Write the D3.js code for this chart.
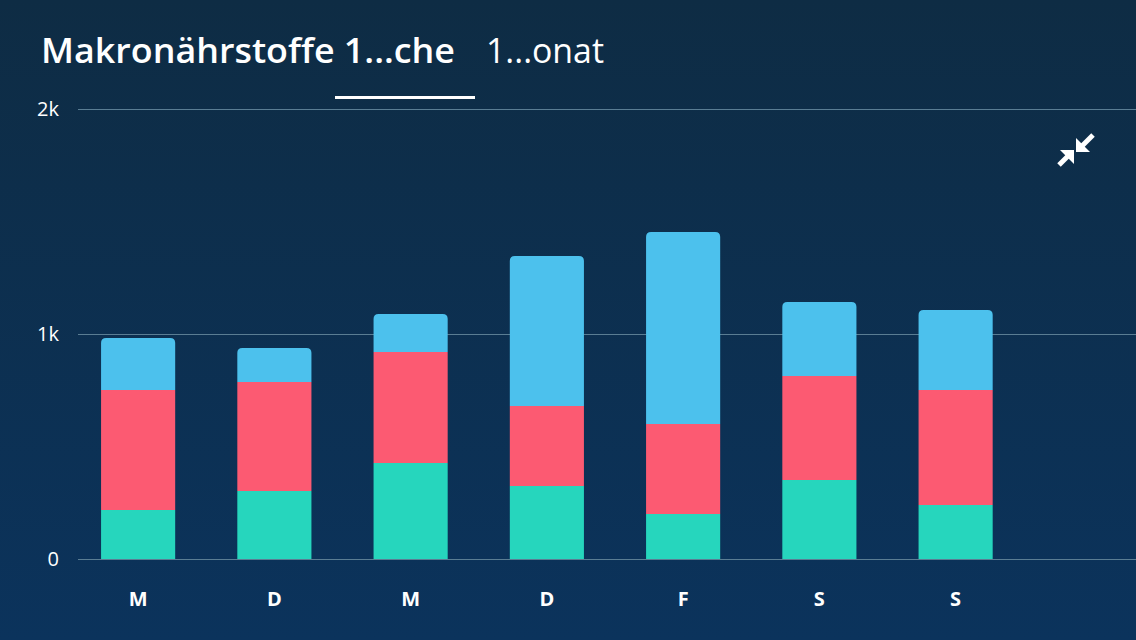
<!DOCTYPE html>
<html><head><meta charset="utf-8">
<script src="https://cdn.jsdelivr.net/npm/d3@7"></script>
<style>html,body{margin:0;padding:0;background:#0d2f4d;}svg{display:block;}</style>
</head><body>
<svg id="c" width="1136" height="640"></svg>
<script>
const days = ["M","D","M","D","F","S","S",""];
const protein = [218, 302, 427, 324, 200, 351, 240];
const fat = [533, 485, 493, 356, 400, 462, 511];
const carbs = [231, 151, 169, 667, 853, 329, 356];
const yTicks = [0, 1000, 2000];
const yTickLabels = ["0", "1k", "2k"];
const seriesKeys = ["protein", "fat", "carbs"];
const colors = {protein: "#26d6bd", fat: "#fc5a72", carbs: "#4cc1ed"};

const W = 1136, H = 640;
const FONT = "'Open Sans', Lato, sans-serif";
const svg = d3.select("#c");
const defs = svg.append("defs");
const g = defs.append("linearGradient").attr("id","bg").attr("x1",0).attr("y1",0).attr("x2",0).attr("y2",1);
g.append("stop").attr("offset","0%").attr("stop-color","#0e2c44");
g.append("stop").attr("offset","100%").attr("stop-color","#0b335c");
svg.append("rect").attr("width",W).attr("height",H).attr("fill","url(#bg)");

const x = d3.scaleBand().domain(d3.range(days.length)).range([70, 1160]).paddingInner(0.456).paddingOuter(0.228);
const y = d3.scaleLinear().domain([0, 2000]).range([559, 109]);

// gridlines
svg.append("g").selectAll("line").data(yTicks).join("line")
  .attr("x1", 78).attr("x2", W).attr("y1", d => y(d)+0.5).attr("y2", d => y(d)+0.5)
  .attr("stroke", "#5a7d93").attr("stroke-width", 1);

// y labels
svg.append("g").selectAll("text").data(yTicks).join("text")
  .attr("x", 59).attr("y", d => y(d)).attr("dy", "0.36em").attr("text-anchor","end")
  .attr("fill","#ffffff").attr("font-family",FONT).attr("font-size", 20)
  .text((d,i) => yTickLabels[i]);

// stacked data
const rows = protein.map((p,i) => ({i, protein: p, fat: fat[i], carbs: carbs[i]}));
const stack = d3.stack().keys(seriesKeys)(rows);
const r = 5;
stack.forEach((layer, li) => {
  const top = li === stack.length - 1;
  svg.append("g").selectAll("path").data(layer).join("path")
    .attr("fill", colors[layer.key])
    .attr("d", d => {
      const x0 = x(d.data.i), w = x.bandwidth();
      const y0 = y(d[0]), y1 = y(d[1]);
      if (!top) return `M${x0},${y0}V${y1}H${x0+w}V${y0}Z`;
      return `M${x0},${y0}V${y1+r}Q${x0},${y1} ${x0+r},${y1}H${x0+w-r}Q${x0+w},${y1} ${x0+w},${y1+r}V${y0}Z`;
    });
});

// x labels
svg.append("g").selectAll("text").data(days.slice(0,7)).join("text")
  .attr("x", (d,i) => x(i) + x.bandwidth()/2).attr("y", 599).attr("dy","0.36em")
  .attr("text-anchor","middle").attr("fill","#ffffff")
  .attr("font-family",FONT).attr("font-weight","bold").attr("font-size", 20)
  .text(d => d);

// title
svg.append("text").attr("x", 41).attr("y", 63)
  .attr("font-family",FONT).attr("font-size", 34).attr("font-weight", 600).attr("fill","#ffffff")
  .attr("textLength", 414).attr("lengthAdjust","spacingAndGlyphs")
  .text("Makronährstoffe 1...che");
svg.append("text").attr("x", 486).attr("y", 63)
  .attr("font-family",FONT).attr("font-size", 34).attr("fill","#ffffff")
  .attr("textLength", 118).attr("lengthAdjust","spacingAndGlyphs")
  .text("1...onat");
svg.append("rect").attr("x", 335).attr("y", 96).attr("width", 140).attr("height", 3).attr("fill", "#ffffff");

// compress icon
const ic = svg.append("g");
ic.append("path").attr("d","M1076,152 L1076,138 L1090,152 Z").attr("fill","#fff");
ic.append("line").attr("x1",1082).attr("y1",146).attr("x2",1093).attr("y2",135).attr("stroke","#fff").attr("stroke-width",5);
ic.append("path").attr("d","M1074,150 L1074,164 L1060,150 Z").attr("fill","#fff");
ic.append("line").attr("x1",1068).attr("y1",156).attr("x2",1059).attr("y2",165).attr("stroke","#fff").attr("stroke-width",5);
</script>
</body></html>
